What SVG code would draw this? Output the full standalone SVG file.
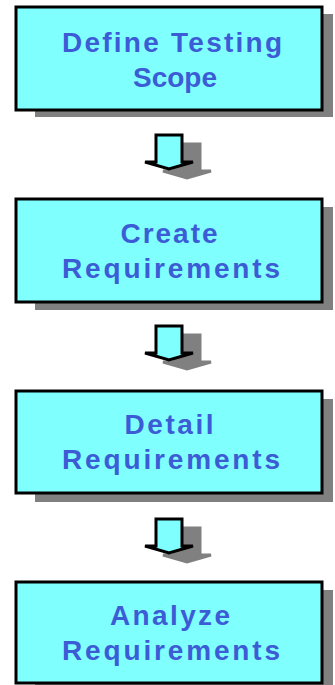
<svg xmlns="http://www.w3.org/2000/svg" xmlns:xlink="http://www.w3.org/1999/xlink" width="335" height="685" viewBox="0 0 335 685">
  <style>
    .shadow { fill: #808080; }
    .box { fill: #80FFFF; stroke: #000; stroke-width: 3; }
    .label { font-family: "Liberation Sans", Arial, sans-serif; font-weight: bold; font-size: 28px; fill: #3C5CD6; text-anchor: middle; }
    .arrow { fill: #80FFFF; stroke: #000; stroke-width: 3; stroke-linejoin: miter; }
    .arrow-shadow { fill: #808080; stroke: #808080; stroke-width: 3; }
  </style>
  <defs>
    <path id="blockArrow" d="M0,0 H26 V27 H37 L13,34 L-11,27 H0 Z"/>
  </defs>
  <rect width="335" height="685" fill="#fff"/>

  <g id="connectors">
    <g transform="translate(156,135)">
      <use xlink:href="#blockArrow" class="arrow-shadow" transform="translate(18,9)"/>
      <use xlink:href="#blockArrow" class="arrow"/>
    </g>
    <g transform="translate(156,326)">
      <use xlink:href="#blockArrow" class="arrow-shadow" transform="translate(18,9)"/>
      <use xlink:href="#blockArrow" class="arrow"/>
    </g>
    <g transform="translate(156,519)">
      <use xlink:href="#blockArrow" class="arrow-shadow" transform="translate(18,9)"/>
      <use xlink:href="#blockArrow" class="arrow"/>
    </g>
  </g>

  <g id="node-define-scope">
    <rect class="shadow" x="35" y="14" width="298" height="103"/>
    <rect class="box" x="16" y="7" width="306" height="103"/>
    <text class="label" x="172" y="52" textLength="220" lengthAdjust="spacing">Define Testing</text>
    <text class="label" x="175" y="87" textLength="84" lengthAdjust="spacing">Scope</text>
  </g>

  <g id="node-create-requirements">
    <rect class="shadow" x="35" y="207" width="298" height="103"/>
    <rect class="box" x="16" y="199" width="306" height="103"/>
    <text class="label" x="169" y="243" textLength="97" lengthAdjust="spacing">Create</text>
    <text class="label" x="171" y="278" textLength="218" lengthAdjust="spacing">Requirements</text>
  </g>

  <g id="node-detail-requirements">
    <rect class="shadow" x="35" y="399" width="298" height="103"/>
    <rect class="box" x="16" y="391" width="306" height="102"/>
    <text class="label" x="169" y="434" textLength="89" lengthAdjust="spacing">Detail</text>
    <text class="label" x="171" y="469" textLength="218" lengthAdjust="spacing">Requirements</text>
  </g>

  <g id="node-analyze-requirements">
    <rect class="shadow" x="35" y="590" width="298" height="100"/>
    <rect class="box" x="16" y="582" width="306" height="101"/>
    <text class="label" x="170" y="625" textLength="120" lengthAdjust="spacing">Analyze</text>
    <text class="label" x="171" y="660" textLength="218" lengthAdjust="spacing">Requirements</text>
  </g>
</svg>
